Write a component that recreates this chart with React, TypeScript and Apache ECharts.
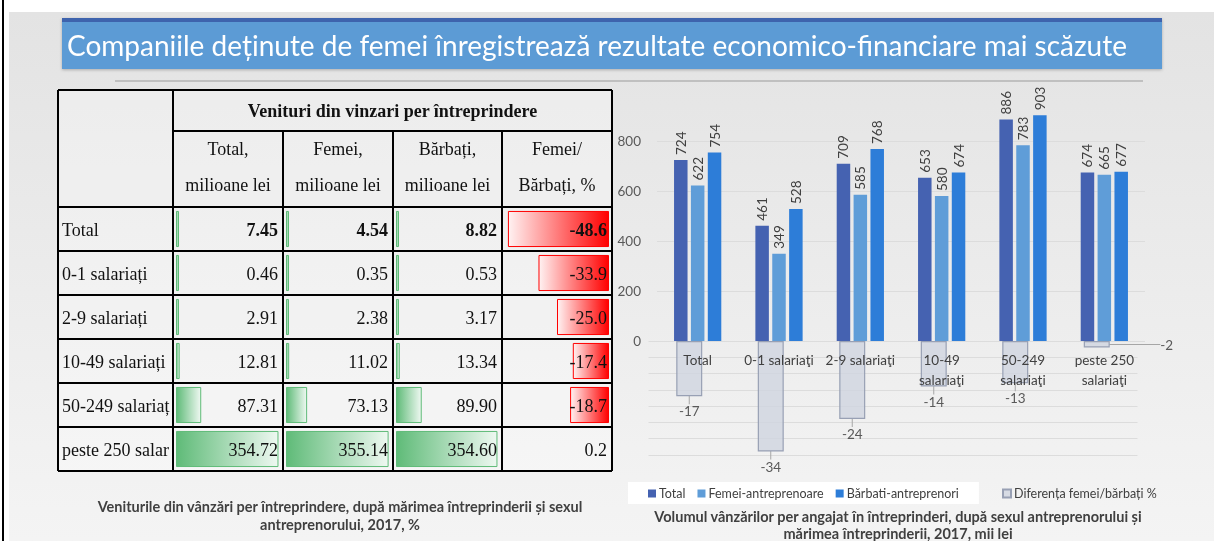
import React, { useEffect, useRef } from "react";
import * as echarts from "echarts";

// ---------- data ----------
const rowLabels = ["Total", "0-1 salariați", "2-9 salariați", "10-49 salariați", "50-249 salariați", "peste 250 salariați"];
const tableHeader = "Venituri din vinzari per întreprindere";
const colHeaders = [["Total,", "milioane lei"], ["Femei,", "milioane lei"], ["Bărbați,", "milioane lei"], ["Femei/", "Bărbați, %"]];
const tableTotal = [7.45, 0.46, 2.91, 12.81, 87.31, 354.72];
const tableFemei = [4.54, 0.35, 2.38, 11.02, 73.13, 355.14];
const tableBarbati = [8.82, 0.53, 3.17, 13.34, 89.9, 354.6];
const tableRatio = [-48.6, -33.9, -25.0, -17.4, -18.7, 0.2];

const categories = ["Total", "0-1 salariaţi", "2-9 salariaţi", "10-49\nsalariaţi", "50-249\nsalariaţi", "peste 250\nsalariaţi"];
const totalValues = [724, 461, 709, 653, 886, 674];
const femeiValues = [622, 349, 585, 580, 783, 665];
const barbatiValues = [754, 528, 768, 674, 903, 677];
const diffValues = [-17, -34, -24, -14, -13, -2];
const seriesNames = ["Total", "Femei-antreprenoare", "Bărbati-antreprenori"];
const diffName = "Diferența femei/bărbați %";

const titleText = "Companiile deținute de femei înregistrează rezultate economico-financiare mai scăzute";
const leftCaption = ["Veniturile din vânzări per întreprindere, după mărimea întreprinderii și sexul", "antreprenorului, 2017, %"];
const rightCaption = ["Volumul vânzărilor per angajat în întreprinderi, după sexul antreprenorului și", "mărimea întreprinderii, 2017, mii lei"];

// ---------- layout ----------
const W = 1214;
const H = 541;
const SANS = "Lato, 'Open Sans', sans-serif";
const SERIF = "'Liberation Serif', 'DejaVu Serif', serif";
const TX = [58, 173, 283, 393, 502, 612];
const TY = [90, 131, 207, 251, 295, 339, 383, 427, 471];

function buildGraphic() {
  const g: any[] = [];
  g.push({ type: "rect", z: -30, shape: { x: 0, y: 0, width: W, height: H }, style: { fill: "#ffffff" } });
  g.push({
    type: "rect", z: -29, shape: { x: 9, y: 12, width: W - 9, height: H - 12 },
    style: { fill: { type: "linear", x: 0, y: 0, x2: 0, y2: 1, colorStops: [{ offset: 0, color: "#e3e3e3" }, { offset: 1, color: "#f4f4f4" }] } },
  });
  g.push({ type: "line", z: -28, shape: { x1: 3, y1: 0, x2: 3, y2: H }, style: { stroke: "#000", lineWidth: 2 } });
  // banner
  g.push({ type: "rect", z: -27, shape: { x: 62, y: 18, width: 1100, height: 51 }, style: { fill: "#5b9bd5", shadowBlur: 3, shadowColor: "rgba(0,0,0,0.25)", shadowOffsetY: 1 } });
  g.push({ type: "rect", z: -26, shape: { x: 62, y: 18, width: 1100, height: 4 }, style: { fill: "#3e63ad" } });
  g.push({ type: "text", z: 30, x: 67, y: 45, style: { text: titleText, fill: "#ffffff", font: `28px ${SANS}`, verticalAlign: "middle" } });
  g.push({ type: "line", z: -26, shape: { x1: 115, y1: 81, x2: 1143, y2: 81 }, style: { stroke: "#c0c0c0", lineWidth: 2 } });

  // table background + borders
  g.push({ type: "rect", z: -25, shape: { x: TX[0], y: TY[0], width: TX[5] - TX[0], height: TY[8] - TY[0] }, style: { fill: "rgba(255,255,255,0.3)" } });
  const lineStyle = { stroke: "#000", lineWidth: 2 };
  const L = (x1: number, y1: number, x2: number, y2: number) => g.push({ type: "line", z: 20, shape: { x1, y1, x2, y2 }, style: lineStyle });
  L(TX[0], TY[0], TX[5], TY[0]);
  L(TX[0], TY[8], TX[5], TY[8]);
  L(TX[0], TY[0], TX[0], TY[8]);
  L(TX[5], TY[0], TX[5], TY[8]);
  L(TX[1], TY[0], TX[1], TY[8]);
  for (let i = 2; i <= 4; i++) L(TX[i], TY[1], TX[i], TY[8]);
  L(TX[1], TY[1], TX[5], TY[1]);
  for (let j = 2; j <= 7; j++) L(TX[0], TY[j], TX[5], TY[j]);

  // table texts
  g.push({ type: "text", z: 30, x: (TX[1] + TX[5]) / 2, y: (TY[0] + TY[1]) / 2, style: { text: tableHeader, fill: "#111", font: `bold 18px ${SERIF}`, align: "center", verticalAlign: "middle" } });
  colHeaders.forEach((lines, c) => {
    const cx = (TX[c + 1] + TX[c + 2]) / 2;
    lines.forEach((t, k) => {
      g.push({ type: "text", z: 30, x: cx, y: TY[1] + 18 + k * 36, style: { text: t, fill: "#111", font: `18px ${SERIF}`, align: "center", verticalAlign: "middle" } });
    });
  });
  const cols = [tableTotal, tableFemei, tableBarbati, tableRatio];
  rowLabels.forEach((lab, r) => {
    const cy = (TY[r + 2] + TY[r + 3]) / 2 + 1;
    const bold = r === 0 ? "bold " : "";
    g.push({
      type: "text", z: 30, x: TX[0] + 4, y: cy,
      style: { text: lab, fill: "#111", font: `18px ${SERIF}`, verticalAlign: "middle", width: TX[1] - TX[0] - 6, overflow: "truncate", ellipsis: "" },
    });
    cols.forEach((arr, c) => {
      const v = arr[r];
      const txt = c === 3 ? v.toFixed(1) : v.toFixed(2);
      g.push({ type: "text", z: 30, x: TX[c + 2] - 5, y: cy, style: { text: txt, fill: "#111", font: `${bold}18px ${SERIF}`, align: "right", verticalAlign: "middle" } });
    });
  });

  // captions
  leftCaption.forEach((t, k) => g.push({ type: "text", z: 30, x: 340, y: 506 + k * 18, style: { text: t, fill: "#404040", font: `bold 14.5px ${SANS}`, align: "center", verticalAlign: "middle" } }));
  rightCaption.forEach((t, k) => g.push({ type: "text", z: 30, x: 898, y: 516 + k * 17, style: { text: t, fill: "#404040", font: `bold 14.5px ${SANS}`, align: "center", verticalAlign: "middle" } }));
  return g;
}

function buildOption(): any {
  const tableCols = [tableTotal, tableFemei, tableBarbati, tableRatio];
  const green = { type: "linear", x: 0, y: 0, x2: 1, y2: 0, colorStops: [{ offset: 0, color: "#5fbb78" }, { offset: 1, color: "#eef8f1" }] };
  const red = { type: "linear", x: 0, y: 0, x2: 1, y2: 0, colorStops: [{ offset: 0, color: "#fff2f2" }, { offset: 1, color: "#ff0000" }] };

  const grid: any[] = tableCols.map((_, c) => ({ left: TX[c + 1] + 3, width: TX[c + 2] - TX[c + 1] - 6, top: TY[2], height: TY[8] - TY[2] }));
  grid.push({ left: 657, top: 91, width: 488, height: 250 });
  grid.push({ left: 648.5, top: 341, width: 489, height: 113.75 });

  const xAxis: any[] = tableCols.map((_, c) => ({ type: "value", gridIndex: c, min: c < 3 ? 0 : -50, max: c < 3 ? 360 : 0, show: false }));
  xAxis.push({
    type: "category", gridIndex: 4, data: categories, z: 10,
    axisLine: { show: false }, axisTick: { show: false },
    axisLabel: { interval: 0, fontFamily: SANS, fontSize: 13.5, color: "#404040", margin: 9, lineHeight: 20 },
  });
  xAxis.push({ type: "category", gridIndex: 5, data: categories, show: false });

  const yAxis: any[] = tableCols.map((_, c) => ({ type: "category", gridIndex: c, data: rowLabels, inverse: true, show: false }));
  yAxis.push({
    type: "value", gridIndex: 4, min: 0, max: 1000, interval: 200,
    axisLine: { show: false }, axisTick: { show: false },
    axisLabel: { showMaxLabel: false, fontFamily: SANS, fontSize: 13.5, color: "#595959", margin: 16 },
    splitLine: { showMaxLine: false, lineStyle: { color: "#dcdcdc", width: 1 } },
  });
  yAxis.push({
    type: "value", gridIndex: 5, min: -35, max: 0, interval: 5,
    axisLine: { show: false }, axisTick: { show: false }, axisLabel: { show: false },
    splitLine: { lineStyle: { color: "#dcdcdc", width: 1 } },
  });

  const series: any[] = tableCols.map((arr, c) => ({
    type: "bar", name: "t" + c, xAxisIndex: c, yAxisIndex: c, data: arr, silent: true,
    barCategoryGap: "18%", barMinHeight: c < 3 ? 3 : 0,
    itemStyle: { color: c < 3 ? green : red, borderColor: c < 3 ? "#5fbb78" : "#ff0000", borderWidth: 1 },
  }));
  const barColors = ["#4562b1", "#5f9dd8", "#2d7dd8"];
  [totalValues, femeiValues, barbatiValues].forEach((arr, i) => {
    series.push({
      type: "bar", name: seriesNames[i], xAxisIndex: 4, yAxisIndex: 4, data: arr,
      barWidth: 13.5, barGap: "25%",
      itemStyle: { color: barColors[i] },
      label: { show: true, position: "top", rotate: 90, align: "left", verticalAlign: "middle", distance: 5, fontFamily: SANS, fontSize: 13.5, color: "#404040" },
    });
  });
  series.push({
    type: "bar", name: diffName, xAxisIndex: 5, yAxisIndex: 5, data: diffValues, barWidth: 26,
    itemStyle: { color: "rgba(208,212,224,0.8)", borderColor: "#98a0b4", borderWidth: 1.2 },
    label: { show: true, position: "bottom", distance: 8, fontFamily: SANS, fontSize: 13.5, color: "#595959" },
    labelLayout: (p: any) => (p.dataIndex === diffValues.length - 1 ? { dx: 70, dy: -18 } : {}),
    labelLine: { show: true, lineStyle: { color: "#a6a6a6", width: 1 } },
  });

  return {
    animation: false,
    grid, xAxis, yAxis, series,
    legend: [
      {
        data: seriesNames, left: 628, top: 482, icon: "rect", itemWidth: 8, itemHeight: 8, itemGap: 12,
        textStyle: { fontFamily: SANS, fontSize: 12.5, color: "#404040", padding: [0, 0, 0, -2] },
        backgroundColor: "#ffffff", padding: [5, 20, 4, 20], selectedMode: false,
      },
      {
        data: [diffName], left: 997, top: 482, icon: "rect", itemWidth: 8, itemHeight: 8,
        textStyle: { fontFamily: SANS, fontSize: 12.5, color: "#404040", padding: [0, 0, 0, -2] },
        selectedMode: false,
      },
    ],
    graphic: buildGraphic(),
  };
}

export default function App() {
  const ref = useRef<HTMLDivElement>(null);
  useEffect(() => {
    const chart = echarts.init(ref.current!, null, { renderer: "svg" });
    chart.setOption(buildOption());
    return () => chart.dispose();
  }, []);
  return <div ref={ref} style={{ position: "fixed", left: 0, top: 0, width: W, height: H }} />;
}
